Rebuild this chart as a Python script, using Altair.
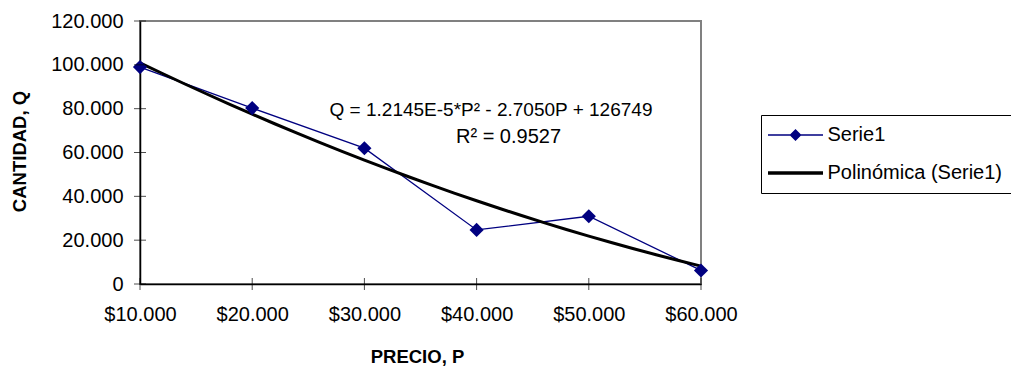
import altair as alt
import pandas as pd

# Demand schedule: price (P) and quantity (Q)
precio = [10000, 20000, 30000, 40000, 50000, 60000]
cantidad = [98970, 80250, 61960, 24680, 30920, 6180]

# Axis tick values
x_ticks = [10000, 20000, 30000, 40000, 50000, 60000]
y_ticks = [0, 20000, 40000, 60000, 80000, 100000, 120000]

# Legend entries
series_names = ["Serie1", "Polinómica (Serie1)"]
series_colors = ["#000080", "#000000"]

# Trendline annotation
eq_label = "Q = 1.2145E-5*P² - 2.7050P + 126749"
r2_label = "R² = 0.9527"

FONT = "Liberation Sans"
NAVY = "#000080"

df = pd.DataFrame({"precio": precio, "cantidad": cantidad})

x_scale = alt.Scale(domain=[10000, 60000], nice=False, zero=False)
y_scale = alt.Scale(domain=[0, 120000], nice=False, zero=True)

x_axis = alt.Axis(
    values=x_ticks,
    labelExpr='"$" + replace(format(datum.value, ",.0f"), ",", ".")',
    title="PRECIO, P",
    ticks=False,
    grid=False,
    labelPadding=20,
    labelFlush=False,
    labelOverlap=False,
    domainColor="black",
    domainWidth=1.5,
    labelFont=FONT,
    labelFontSize=20,
    labelColor="black",
    titleFont=FONT,
    titleFontSize=18.5,
    titleFontWeight="bold",
    titleColor="black",
    titleX=277,
    titleY=78,
    titleAlign="center",
    titleBaseline="alphabetic",
)

y_axis = alt.Axis(
    values=y_ticks,
    labelExpr='replace(format(datum.value, ",.0f"), ",", ".")',
    title="CANTIDAD, Q",
    ticks=False,
    grid=False,
    labelPadding=17,
    labelFlush=False,
    labelOverlap=False,
    domainColor="black",
    domainWidth=1.5,
    labelFont=FONT,
    labelFontSize=20,
    labelColor="black",
    titleFont=FONT,
    titleFontSize=18.5,
    titleFontWeight="bold",
    titleColor="black",
    titleAngle=270,
    titleX=-120.5,
    titleY=130,
    titleAlign="center",
    titleBaseline="middle",
)

x_enc = alt.X("precio:Q", scale=x_scale, axis=x_axis)
y_enc = alt.Y("cantidad:Q", scale=y_scale, axis=y_axis)

base = alt.Chart(df)

serie_line = base.mark_line(color=NAVY, strokeWidth=1.3).encode(x=x_enc, y=y_enc)

trend = (
    base.transform_regression("precio", "cantidad", method="poly", order=2)
    .mark_line(color="black", strokeWidth=3)
    .encode(x=x_enc, y=y_enc)
)

serie_points = base.mark_point(
    filled=True, shape="diamond", size=200, color=NAVY, opacity=1
).encode(x=x_enc, y=y_enc)

# Cross-style tick marks on both axes
y_tick_df = pd.DataFrame({"cantidad": y_ticks, "precio": [x_ticks[0]] * len(y_ticks)})
x_tick_df = pd.DataFrame({"precio": x_ticks, "cantidad": [y_ticks[0]] * len(x_ticks)})

y_cross = alt.Chart(y_tick_df).mark_tick(
    orient="horizontal", size=12, thickness=1, color="black"
).encode(x=x_enc, y=y_enc)

x_cross = alt.Chart(x_tick_df).mark_tick(
    orient="vertical", size=12, thickness=1, color="black"
).encode(x=x_enc, y=y_enc)

# Trendline equation and R² annotation
eq_text = alt.Chart(pd.DataFrame({"t": [eq_label]})).mark_text(
    font=FONT, fontSize=19, color="black", align="center", baseline="alphabetic"
).encode(x=alt.value(351), y=alt.value(95), text="t:N")

r2_text = alt.Chart(pd.DataFrame({"t": [r2_label]})).mark_text(
    font=FONT, fontSize=20, color="black", align="center", baseline="alphabetic"
).encode(x=alt.value(368.5), y=alt.value(122), text="t:N")

# Legend symbols: thin line with a diamond, and a thick line
legend_paths = [
    "M-2.75,-0.065H2.75V0.065H-2.75Z M0,-0.6L0.6,0L0,0.6L-0.6,0Z",
    "M-2.75,-0.18H2.75V0.18H-2.75Z",
]

legend = alt.Legend(
    title=None,
    orient="none",
    legendX=621,
    legendY=94,
    padding=10,
    strokeColor="black",
    fillColor="white",
    labelFont=FONT,
    labelFontSize=20,
    labelColor="black",
    labelLimit=400,
    symbolSize=400,
    symbolStrokeWidth=0,
    symbolOpacity=1,
    symbolOffset=14.5,
    labelOffset=22,
    rowPadding=18,
)

legend_layer = (
    alt.Chart(pd.DataFrame({"serie": series_names}))
    .transform_filter("false")
    .mark_point(filled=True, opacity=1)
    .encode(
        color=alt.Color(
            "serie:N",
            scale=alt.Scale(domain=series_names, range=series_colors),
            legend=legend,
        ),
        shape=alt.Shape(
            "serie:N",
            scale=alt.Scale(domain=series_names, range=legend_paths),
            legend=legend,
        ),
    )
)

chart = (
    alt.layer(serie_line, trend, serie_points, y_cross, x_cross, eq_text, r2_text, legend_layer)
    .properties(
        width=561,
        height=263,
        padding={"left": 140, "top": 21, "right": 310, "bottom": 84},
        autosize=alt.AutoSizeParams(type="none"),
        background="white",
    )
    .configure_view(stroke="#808080", strokeWidth=2)
)

chart.save("out.html", embed_options={"renderer": "svg", "actions": False})
